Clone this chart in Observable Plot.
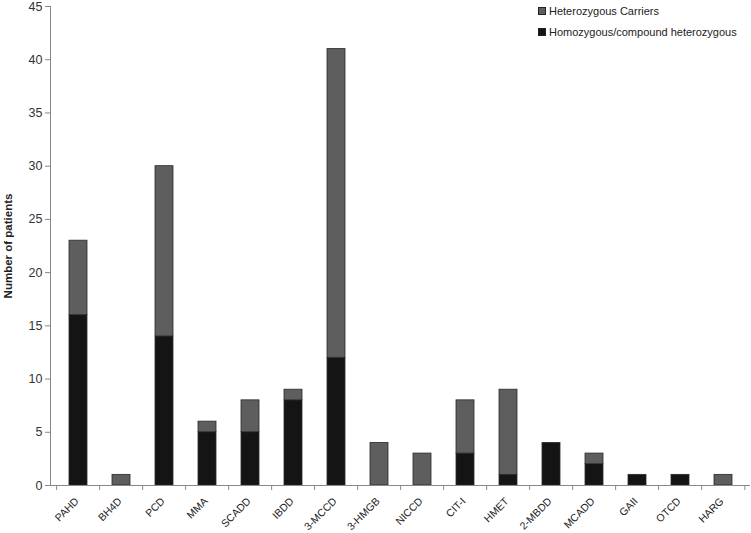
<!DOCTYPE html>
<html>
<head>
<meta charset="utf-8">
<script src="https://cdn.jsdelivr.net/npm/d3@7"></script>
<script src="https://cdn.jsdelivr.net/npm/@observablehq/plot@0.6"></script>
<style>
  html, body { margin: 0; padding: 0; background: #fff; }
  #wrap { position: relative; width: 751px; height: 533px; font-family: "Liberation Sans", Arial, sans-serif; }
  .leg { position: absolute; left: 538px; font-size: 11px; color: #222; display: flex; align-items: center; white-space: nowrap; line-height: 12px; }
  .sw { width: 8px; height: 8px; margin-right: 3px; border: 0.5px solid #222; box-sizing: border-box; }
</style>
</head>
<body>
<div id="wrap"></div>
<script>
const categories = ["PAHD","BH4D","PCD","MMA","SCADD","IBDD","3-MCCD","3-HMGB","NICCD","CIT-I","HMET","2-MBDD","MCADD","GAII","OTCD","HARG"];
const homozygous = [16,0,14,5,5,8,12,0,0,3,1,4,2,1,1,0];
const heterozygous = [7,1,16,1,3,1,29,4,3,5,8,0,1,0,0,1];
const seriesNames = ["Homozygous/compound heterozygous","Heterozygous Carriers"];
const seriesColors = ["#141414","#5e5e5e"];
const yTicks = [0,5,10,15,20,25,30,35,40,45];

const rows = [];
categories.forEach((c, i) => {
  rows.push({cat: c, series: seriesNames[0], value: homozygous[i]});
  rows.push({cat: c, series: seriesNames[1], value: heterozygous[i]});
});

const W = 751, H = 533;
const mL = 50, mR = 1;
const step = (W - mL - mR) / 16;
const last = categories[categories.length - 1];

const chart = Plot.plot({
  width: W,
  height: H,
  marginLeft: mL,
  marginRight: mR,
  marginTop: 6,
  marginBottom: 48,
  style: {fontFamily: "Liberation Sans, Arial, sans-serif", background: "white"},
  x: {domain: categories, paddingInner: 0.59, paddingOuter: 0.295, axis: null},
  y: {domain: [0, 45], axis: null},
  color: {domain: seriesNames, range: seriesColors},
  marks: [
    Plot.barY(rows.filter(d => d.value > 0), Plot.stackY({
      x: "cat", y: "value", fill: "series", order: seriesNames,
      stroke: "#2a2a2a", strokeWidth: 0.8
    })),
    // y axis
    Plot.axisY(yTicks, {anchor: "left", tickSize: 5, tickPadding: 3, fontSize: 12.5, color: "#333", stroke: "#888", label: null}),
    Plot.frame({anchor: "left", stroke: "#888"}),
    // x axis line
    Plot.ruleY([0], {stroke: "#888"}),
    // x tick marks at band boundaries
    Plot.ruleX(categories, {x: d => d, dx: -step / 2, y1: 0, y2: 0, insetBottom: -5, stroke: "#888"}),
    Plot.ruleX([last], {x: d => d, dx: step / 2 - 0.5, y1: 0, y2: 0, insetBottom: -5, stroke: "#888"}),
    // x labels
    Plot.text(categories, {x: d => d, y: 0, text: d => d, rotate: -45, textAnchor: "end", dx: -1.5, dy: 14, fontSize: 10.5, fill: "#222"}),
    // y label
    Plot.text(["Number of patients"], {frameAnchor: "left", y: 22.5, text: d => d, rotate: -90, textAnchor: "middle", dx: -42, fontWeight: "bold", fontSize: 11.5, fill: "#222"})
  ]
});

const wrap = document.getElementById("wrap");
wrap.appendChild(chart);

const legendItems = [
  {name: seriesNames[1], color: seriesColors[1], top: 5},
  {name: seriesNames[0], color: seriesColors[0], top: 26}
];
legendItems.forEach(it => {
  const div = document.createElement("div");
  div.className = "leg";
  div.style.top = it.top + "px";
  const sw = document.createElement("span");
  sw.className = "sw";
  sw.style.background = it.color;
  const tx = document.createElement("span");
  tx.textContent = it.name;
  div.appendChild(sw);
  div.appendChild(tx);
  wrap.appendChild(div);
});
</script>
</body>
</html>
